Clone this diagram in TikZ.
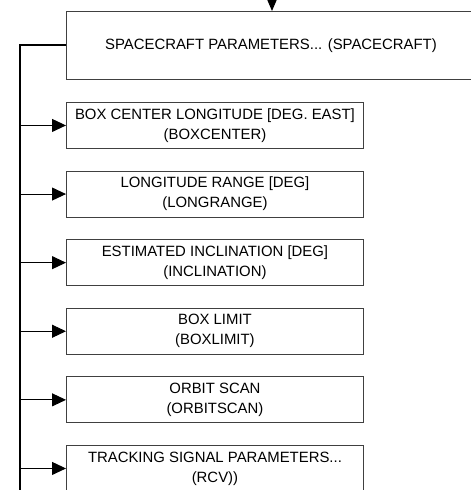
\documentclass[tikz,border=0pt]{standalone}
\usepackage{fontspec}
\setmainfont{Liberation Sans}
\usetikzlibrary{arrows.meta,calc}
\begin{document}
\begin{tikzpicture}[x=1pt,y=-1pt,
  boxstyle/.style={draw=black!75,line width=0.9pt,rectangle,anchor=north west,
    minimum width=297pt,minimum height=46pt,inner sep=0pt,align=center,
    font=\fontsize{14.9}{20}\selectfont},
  topbox/.style={draw=black!75,line width=0.9pt,rectangle,anchor=north west,
    minimum width=409pt,minimum height=68pt,inner sep=0pt,align=center,
    font=\fontsize{14.9}{20}\selectfont},
  feed/.style={line width=1pt,-{Triangle[length=14pt,width=13pt]}},
  spine/.style={line width=2pt}]
\useasboundingbox (0,0) rectangle (471,490);
\begin{scope}
\clip (0,0) rectangle (471,490);
\node[topbox] (sc) at (66,11) {SPACECRAFT PARAMETERS... (SPACECRAFT)};
\node[boxstyle] (b1) at (66,102) {BOX CENTER LONGITUDE [DEG. EAST]\\(BOXCENTER)};
\node[boxstyle] (b2) at (66,170.6) {LONGITUDE RANGE [DEG]\\(LONGRANGE)};
\node[boxstyle] (b3) at (66,239.2) {ESTIMATED INCLINATION [DEG]\\(INCLINATION)};
\node[boxstyle] (b4) at (66,307.8) {BOX LIMIT\\(BOXLIMIT)};
\node[boxstyle] (b5) at (66,376.4) {ORBIT SCAN\\(ORBITSCAN)};
\node[boxstyle] (b6) at (66,445) {TRACKING SIGNAL PARAMETERS...\\(RCV))};
\coordinate (in) at (272,-3);
\draw[line width=1pt,-{Triangle[length=12pt,width=10pt]}] (in) -- (in |- sc.north);
\coordinate (sp) at (20,45);
\coordinate (spend) at (20,492);
\draw[spine] (sc.west |- sp) -- (sp) -- (spend);
\foreach \b in {b1,b2,b3,b4,b5,b6}{
  \draw[feed] (sp |- \b.west) -- (\b.west);
}
\end{scope}
\end{tikzpicture}
\end{document}
